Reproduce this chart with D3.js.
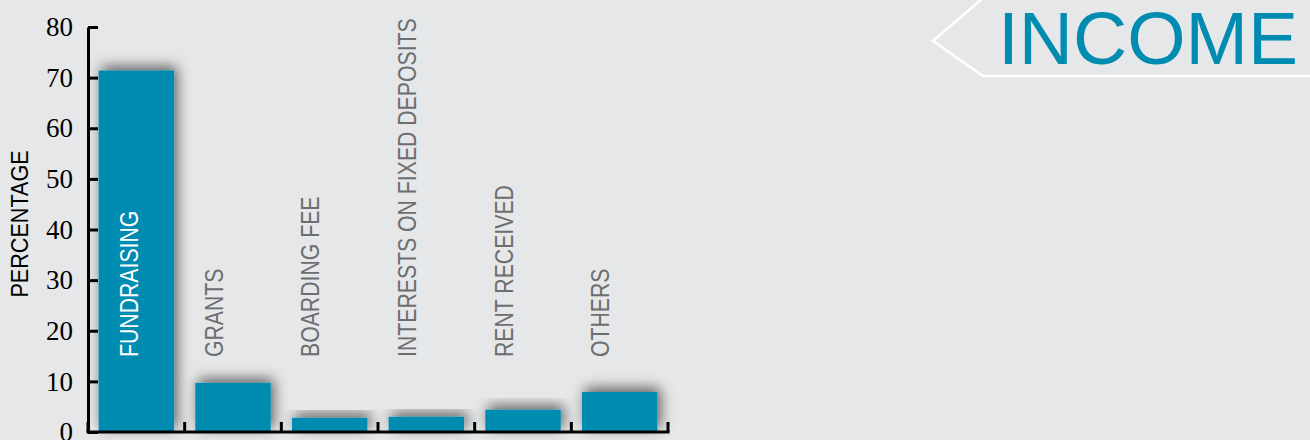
<!DOCTYPE html>
<html>
<head>
<meta charset="utf-8">
<script src="https://cdn.jsdelivr.net/npm/d3@7"></script>
<style>
  html, body { margin: 0; padding: 0; background: #e6e7e8; }
  svg { display: block; }
</style>
</head>
<body>
<svg id="chart"></svg>
<script>
// data
var categories = ["FUNDRAISING", "GRANTS", "BOARDING FEE", "INTERESTS ON FIXED DEPOSITS", "RENT RECEIVED", "OTHERS"];
var percentages = [71.4, 9.7, 2.8, 3.0, 4.4, 7.9];
var yTicks = [0, 10, 20, 30, 40, 50, 60, 70, 80];

var width = 1310, height = 440;
var barColor = "#008bb0";

var svg = d3.select("#chart").attr("width", width).attr("height", height);

svg.append("rect").attr("width", width).attr("height", height).attr("fill", "#e6e7e8");

// soft drop shadow behind the bars
var defs = svg.append("defs");
var f = defs.append("filter").attr("id", "shadow")
  .attr("x", "-50%").attr("y", "-50%").attr("width", "200%").attr("height", "200%");
f.append("feDropShadow")
  .attr("dx", 3).attr("dy", -4)
  .attr("stdDeviation", 7)
  .attr("flood-color", "#000")
  .attr("flood-opacity", 0.6);

var x = d3.scaleBand()
  .domain(categories)
  .range([88, 668])
  .paddingInner(0.22)
  .paddingOuter(0.11);

var y = d3.scaleLinear().domain([0, 80]).range([432, 27]);

// bars
svg.append("g").selectAll("rect")
  .data(categories)
  .join("rect")
  .attr("x", d => x(d))
  .attr("width", x.bandwidth())
  .attr("y", (d, i) => y(percentages[i]))
  .attr("height", (d, i) => y(0) - y(percentages[i]))
  .attr("fill", barColor)
  .attr("filter", "url(#shadow)");

// y axis
var yAxis = svg.append("g")
  .attr("transform", "translate(88,0)")
  .call(d3.axisLeft(y).tickValues(yTicks).tickSizeInner(-10).tickSizeOuter(0).tickPadding(15));
yAxis.select(".domain").attr("stroke", "#000").attr("stroke-width", 3);
yAxis.selectAll(".tick line").attr("stroke", "#000").attr("stroke-width", 3);
yAxis.selectAll(".tick text")
  .attr("fill", "#000")
  .style("font-family", "'Liberation Serif', 'Times New Roman', serif")
  .style("font-size", "27px");

// x axis baseline with boundary ticks
var gap = x.step() * 0.11;
var bounds = categories.map(d => x(d) - gap);
bounds.push(x(categories[categories.length - 1]) + x.bandwidth() + gap);

var xAxis = svg.append("g");
xAxis.append("line")
  .attr("x1", 86.5).attr("x2", bounds[bounds.length - 1] + 1.5)
  .attr("y1", y(0)).attr("y2", y(0))
  .attr("stroke", "#000").attr("stroke-width", 3);
xAxis.selectAll(".bt")
  .data(bounds)
  .join("line")
  .attr("class", "bt")
  .attr("x1", d => d).attr("x2", d => d)
  .attr("y1", y(0)).attr("y2", y(0) - 10)
  .attr("stroke", "#000").attr("stroke-width", 3);

// category labels (rotated, narrowed)
svg.append("g").selectAll("text")
  .data(categories)
  .join("text")
  .attr("transform", (d, i) => {
    var bx = i === 0 ? x(d) + x.bandwidth() / 2 + 2 : x(d) - gap + 38;
    return "translate(" + bx + ",357) rotate(-90) scale(0.85,1)";
  })
  .attr("fill", (d, i) => i === 0 ? "#fff" : "#6d6e70")
  .style("font-family", "'Liberation Sans', Arial, sans-serif")
  .style("font-size", "25px")
  .text(d => d);

// y axis title
svg.append("text")
  .attr("transform", "translate(28,224) rotate(-90) scale(0.9,1)")
  .attr("text-anchor", "middle")
  .attr("fill", "#000")
  .style("font-family", "'Liberation Sans', Arial, sans-serif")
  .style("font-size", "24px")
  .text("PERCENTAGE");

// title tag
svg.append("path")
  .attr("d", "M1312,76 L983,76 L933,41 L983,-2")
  .attr("fill", "none")
  .attr("stroke", "#fff")
  .attr("stroke-width", 2.5);

svg.append("text")
  .attr("x", 998).attr("y", 64)
  .attr("fill", barColor)
  .style("font-family", "'Liberation Sans', Arial, sans-serif")
  .style("font-size", "75px")
  .text("INCOME");
</script>
</body>
</html>
